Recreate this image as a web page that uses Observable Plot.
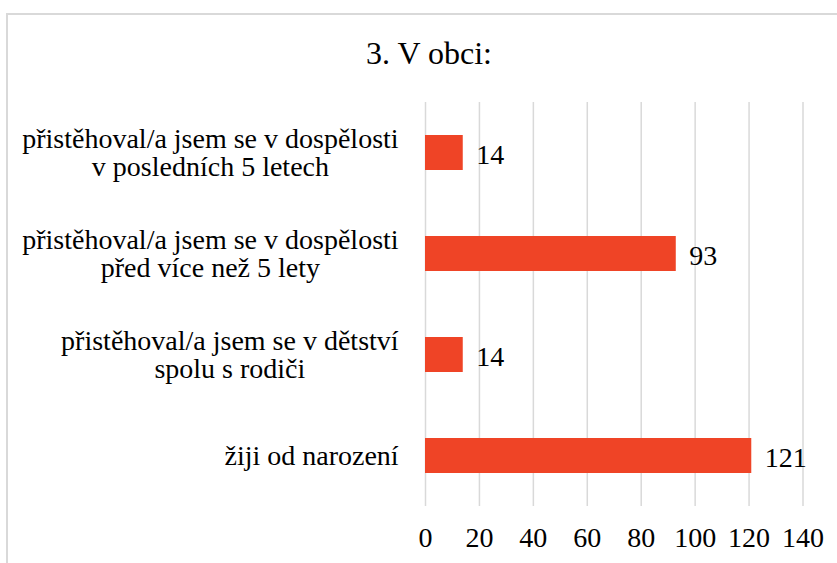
<!DOCTYPE html>
<html>
<head>
<meta charset="utf-8">
<script src="https://cdn.jsdelivr.net/npm/d3@7"></script>
<script src="https://cdn.jsdelivr.net/npm/@observablehq/plot@0.6"></script>
<style>
  body { margin: 0; background: #fff; }
  #wrap { position: relative; width: 837px; height: 563px; overflow: hidden; background: #fff;
          font-family: "Liberation Serif", "Times New Roman", serif; }
  #frame { position: absolute; left: 6px; top: 12.5px; width: 900px; height: 700px;
           border: 2px solid #d9d9d9; box-sizing: border-box; }
  #title { position: relative; height: 90px; box-sizing: border-box; padding-top: 36.5px;
           font-size: 32px; line-height: 32px; text-align: center; width: 858px; color: #000; }
  #chart { position: relative; }
</style>
</head>
<body>
<div id="wrap">
  <div id="frame"></div>
  <div id="title">3. V obci:</div>
  <div id="chart"></div>
</div>
<script>
const categories = [
  "přistěhoval/a jsem se v dospělosti\nv posledních 5 letech",
  "přistěhoval/a jsem se v dospělosti\npřed více než 5 lety",
  "přistěhoval/a jsem se v dětství\nspolu s rodiči",
  "žiji od narození"
];
const values = [14, 93, 14, 121];
const xTicks = [0, 20, 40, 60, 80, 100, 120, 140];

const data = categories.map((c, i) => ({category: c, value: values[i]}));
const font = "Liberation Serif, Times New Roman, serif";

const chart = Plot.plot({
  width: 837,
  height: 473,
  marginLeft: 425,
  marginRight: 34.5,
  marginTop: 12,
  marginBottom: 57,
  style: {fontFamily: font, fontSize: "28px", color: "#000", background: "transparent", overflow: "visible"},
  x: {domain: [0, 140], ticks: xTicks, label: null},
  y: {domain: categories, paddingInner: 0.65, paddingOuter: 0.325, label: null},
  marks: [
    Plot.gridX(xTicks, {stroke: "#d9d9d9", strokeOpacity: 1, strokeWidth: 1.5}),
    Plot.barX(data, {x: "value", y: "category", fill: "#EF4426"}),
    Plot.text(data, {x: "value", y: "category", text: d => String(d.value), textAnchor: "start",
                     dx: 13, dy: 2, fontSize: 28, fontFamily: font, fill: "#000"}),
    Plot.axisX({ticks: xTicks, tickSize: 0, tickPadding: 21, fontSize: 28, fontFamily: font, label: null, fill: "#000"}),
    Plot.axisY({tickSize: 0, tickPadding: 27, fontSize: 28, fontFamily: font, label: null, lineHeight: 1, fill: "#000"})
  ]
});
document.getElementById("chart").appendChild(chart);

// center the lines of each multi-line category label within its block (block stays right-aligned)
const yAxis = chart.querySelector('[aria-label="y-axis tick label"]');
if (yAxis) {
  yAxis.querySelectorAll("text").forEach(t => {
    const b = t.getBBox();
    const cx = b.x + b.width / 2;
    t.removeAttribute("dx");
    t.setAttribute("text-anchor", "middle");
    const spans = t.querySelectorAll("tspan");
    if (spans.length) spans.forEach(s => s.setAttribute("x", cx));
    else t.setAttribute("x", cx);
  });
}
</script>
</body>
</html>
